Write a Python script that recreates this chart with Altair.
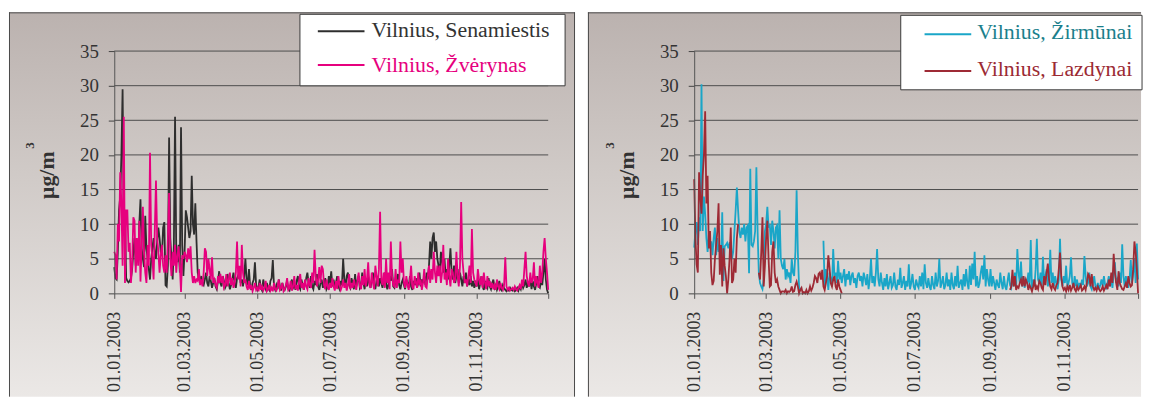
import altair as alt
import pandas as pd

# ---------------- data (daily values, µg/m3, 2003) ----------------
SENAMIESTIS = (
    [3.8, 2.2, 2.0, 6.0, 12.0, 14.0, 20.0, 29.5, 11.0, 11.2, 2.2, 1.8, 1.6, 1.8, 2.2, 3.5, 6.0, 8.0, 4.0, 6.0, 4.5, 10.0, 13.6, 6.5, 5.0, 3.8, 11.2, 6.5, 5.0, 3.5, 2.0]
    + [5.0, 6.5, 8.0, 6.0, 5.0, 7.5, 9.5, 8.0, 6.0, 5.5, 9.5, 10.3, 1.2, 1.0, 4.0, 22.5, 8.0, 5.0, 2.0, 7.0, 25.5, 6.0, 4.5, 7.0, 3.0, 24.0, 7.0, 2.5]
    + [6.0, 12.0, 11.0, 9.5, 8.0, 9.0, 17.0, 10.0, 8.5, 13.0, 7.5, 3.0, 2.0, 1.8, 2.5, 1.5, 1.2, 2.0, 3.0, 1.5, 1.0, 2.5, 1.8, 0.8, 1.5, 2.2, 1.0, 0.6, 1.8, 3.2, 1.5]
    + [1.0, 2.5, 1.8, 0.8, 1.2, 2.8, 1.5, 0.6, 1.2, 2.0, 3.0, 1.4, 0.8, 2.2, 2.6, 3.0, 1.5, 2.0, 1.0, 2.5, 5.0, 2.0, 1.2, 3.5, 1.0, 0.5, 1.5, 2.0, 4.5, 1.2]
    + [0.5, 1.0, 2.0, 0.8, 0.4, 2.0, 1.0, 0.6, 1.5, 0.8, 0.5, 1.8, 2.2, 4.8, 1.0, 0.5, 1.2, 0.6, 2.0, 1.0, 0.4, 1.5, 0.8, 0.5, 1.0, 1.8, 0.6, 0.4, 1.2, 2.0, 0.8]
    + [1.2, 0.5, 1.8, 2.5, 1.0, 0.6, 2.0, 1.2, 0.5, 1.5, 2.2, 3.0, 1.5, 0.8, 2.5, 1.0, 0.6, 1.8, 1.2, 2.8, 1.0, 0.5, 1.5, 2.0, 0.8, 1.5, 2.2, 0.6, 1.0, 2.5]
    + [1.5, 3.2, 1.0, 2.0, 0.8, 1.5, 2.5, 1.0, 0.6, 1.8, 1.2, 5.0, 2.0, 1.0, 2.5, 3.0, 1.2, 0.8, 2.2, 1.5, 0.6, 2.8, 1.0, 1.8, 2.5, 0.8, 1.2, 3.0, 1.5, 0.6, 2.0]
    + [1.0, 2.5, 1.5, 0.8, 2.0, 3.0, 1.2, 0.6, 1.8, 2.5, 1.0, 2.2, 1.5, 0.8, 2.0, 3.0, 1.5, 0.6, 1.2, 2.5, 1.8, 3.5, 1.0, 0.8, 2.0, 1.5, 2.8, 1.2, 0.6, 1.5, 2.0]
    + [1.2, 0.6, 2.0, 1.5, 0.8, 2.5, 1.0, 0.5, 1.8, 1.2, 2.2, 0.8, 1.5, 3.0, 1.0, 2.0, 1.5, 2.5, 1.2, 3.0, 2.0, 4.0, 7.5, 5.0, 8.0, 8.8, 6.0, 7.5, 5.0, 4.0]
    + [3.0, 6.0, 4.5, 3.0, 5.0, 2.5, 3.5, 2.0, 4.0, 6.5, 3.0, 2.0, 4.0, 1.5, 2.5, 3.5, 1.5, 3.0, 2.0, 1.0, 2.5, 1.5, 3.0, 1.0, 2.0, 1.2, 2.5, 1.0, 1.8, 0.8, 1.5]
    + [1.0, 2.0, 0.6, 1.5, 2.5, 1.0, 0.5, 1.8, 1.2, 0.8, 2.2, 1.0, 0.6, 1.5, 2.0, 0.8, 1.2, 0.5, 1.0, 1.8, 0.6, 0.4, 1.2, 0.8, 0.5, 0.3, 0.6, 0.4, 0.8, 0.5]
    + [0.4, 0.6, 0.3, 0.5, 0.8, 0.4, 1.0, 0.6, 1.5, 0.8, 1.2, 2.0, 0.8, 1.5, 1.0, 2.2, 0.6, 1.8, 1.0, 0.5, 1.5, 2.5, 1.0, 0.8, 1.8, 1.2, 3.0, 5.0, 2.0, 0.5, 0.0]
)

ZVERYNAS = (
    [6.0, 5.5, 2.0, 10.0, 7.5, 17.5, 13.0, 4.0, 25.5, 1.5, 12.0, 12.0, 6.0, 7.3, 1.5, 4.0, 11.0, 10.5, 3.0, 8.0, 4.0, 10.5, 1.7, 7.0, 12.5, 6.0, 3.0, 1.5, 7.0, 4.0, 20.3]
    + [7.0, 5.0, 2.0, 9.0, 16.3, 8.0, 6.0, 3.0, 5.5, 7.0, 4.0, 3.0, 5.5, 3.0, 8.0, 14.5, 5.0, 2.5, 6.0, 4.0, 7.0, 3.0, 5.5, 6.8, 4.0, 0.2, 5.5, 5.0]
    + [6.0, 5.5, 4.5, 6.5, 5.0, 6.8, 3.0, 1.5, 2.5, 1.5, 2.0, 1.8, 3.5, 1.2, 2.0, 1.0, 3.0, 6.5, 6.0, 2.5, 5.0, 3.5, 2.0, 5.2, 1.5, 2.0, 1.2, 0.8, 2.5, 1.5, 2.8]
    + [1.5, 2.5, 0.8, 1.2, 2.8, 1.0, 2.0, 3.0, 1.2, 2.2, 0.8, 1.5, 3.0, 7.5, 2.0, 4.0, 1.0, 7.0, 3.0, 1.5, 2.0, 1.0, 0.5, 1.8, 0.6, 1.2, 0.3, 0.8, 1.5, 0.5]
    + [0.8, 0.3, 1.5, 0.5, 1.0, 0.4, 0.8, 1.8, 0.3, 0.6, 1.2, 0.4, 0.8, 0.3, 1.5, 0.6, 0.4, 1.0, 2.0, 0.5, 0.8, 1.5, 0.3, 0.6, 1.2, 2.2, 0.5, 0.8, 1.8, 0.4, 1.0]
    + [2.5, 0.6, 1.2, 0.4, 1.8, 2.8, 0.8, 1.5, 0.5, 2.0, 1.0, 0.6, 2.2, 1.2, 0.8, 3.0, 1.5, 6.3, 2.5, 1.0, 2.0, 3.8, 1.5, 4.0, 3.5, 1.2, 0.6, 2.0, 1.0, 0.5]
    + [1.5, 0.8, 2.2, 1.0, 0.4, 1.8, 0.6, 2.5, 1.2, 0.5, 1.0, 2.0, 0.8, 1.5, 0.4, 1.2, 2.8, 0.6, 1.5, 0.8, 2.0, 1.2, 0.5, 1.8, 3.0, 1.0, 0.6, 2.5, 1.2, 3.5, 1.0]
    + [2.0, 4.5, 1.2, 0.8, 3.0, 1.5, 0.6, 4.0, 2.5, 1.0, 3.5, 11.8, 2.0, 1.2, 3.0, 0.8, 5.0, 1.5, 3.0, 0.6, 7.5, 2.5, 1.2, 1.0, 3.5, 0.8, 2.0, 1.5, 7.5, 3.0, 5.0]
    + [1.5, 0.8, 2.5, 1.2, 0.5, 2.0, 4.0, 1.0, 0.6, 2.5, 1.5, 0.8, 3.0, 1.2, 2.0, 0.5, 1.5, 3.5, 1.0, 0.8, 2.5, 4.0, 1.5, 3.5, 2.0, 6.0, 3.0, 1.5, 4.0, 2.5]
    + [4.0, 1.5, 3.0, 7.0, 2.0, 3.0, 1.2, 5.0, 2.5, 1.0, 3.5, 3.0, 1.5, 2.0, 6.0, 2.5, 1.0, 4.0, 13.2, 5.0, 3.0, 1.5, 2.0, 1.0, 2.5, 4.0, 1.5, 9.3, 3.0, 2.0, 1.5]
    + [1.0, 3.5, 2.0, 1.2, 2.5, 0.8, 3.0, 1.5, 0.6, 2.5, 1.0, 1.8, 0.8, 1.5, 0.6, 1.2, 0.5, 2.0, 1.0, 0.6, 1.5, 0.8, 0.5, 1.2, 5.2, 1.0, 0.5, 0.8, 0.4, 0.6]
    + [0.8, 0.5, 1.0, 0.6, 0.4, 0.8, 1.2, 0.6, 2.0, 1.0, 3.5, 6.0, 2.5, 1.5, 1.0, 3.0, 1.5, 2.0, 4.5, 1.0, 2.5, 1.5, 0.8, 4.0, 1.5, 3.0, 6.0, 8.0, 5.0, 3.0, 0.5]
)

ZIRMUNAI = (
    [6.6, 9.0, 10.3, 7.0, 11.0, 9.0, 30.2, 9.0, 14.0, 11.5, 8.0, 6.0, 8.5, 7.0, 7.5, 5.5, 8.0, 9.5, 5.5, 8.0, 6.0, 7.0, 4.5, 11.7, 1.8, 6.8, 7.0, 7.3, 6.5, 7.3, 7.3]
    + [5.0, 6.0, 9.0, 12.0, 15.3, 12.0, 9.0, 8.0, 9.5, 8.5, 10.0, 7.5, 9.5, 9.8, 2.9, 18.0, 7.0, 6.8, 7.5, 9.0, 18.2, 9.0, 3.0, 1.5, 1.0, 0.6, 2.0, 9.0]
    + [10.0, 12.5, 9.5, 10.0, 7.0, 10.5, 9.0, 6.5, 9.5, 9.8, 5.0, 12.0, 5.0, 4.0, 3.5, 5.0, 2.0, 3.5, 2.5, 3.0, 1.5, 5.0, 3.0, 2.5, 6.0, 14.9, 6.0, 1.0, 0.5, None, None]
    + [None] * 16 + [7.6, 1.0, 3.5, 2.5, 0.5, 3.0, 2.0, 1.0, 6.4, 2.5, 3.0, 1.5, 4.7, 2.0]
    + [3.0, 1.5, 2.5, 3.5, 1.0, 2.8, 2.0, 3.2, 1.2, 2.5, 3.0, 1.5, 2.2, 0.8, 2.5, 3.0, 1.8, 2.5, 1.0, 3.0, 2.2, 1.2, 2.8, 0.6, 2.0, 5.0, 1.5, 2.5, 1.0, 3.0, 6.4]
    + [2.0, 1.0, 3.0, 1.5, 0.5, 2.2, 1.0, 2.8, 0.6, 1.5, 2.5, 0.8, 1.2, 3.0, 1.0, 0.5, 2.0, 1.2, 3.7, 0.8, 1.5, 2.5, 0.5, 1.8, 1.0, 4.2, 0.6, 1.5, 2.8, 1.0]
    + [0.5, 2.0, 1.2, 0.8, 2.5, 1.0, 3.0, 0.6, 4.2, 1.5, 0.8, 2.2, 1.0, 0.5, 2.5, 1.2, 0.6, 3.0, 1.0, 1.8, 5.0, 0.8, 1.5, 2.5, 0.6, 1.2, 3.0, 1.0, 2.0, 0.5, 3.0]
    + [1.2, 0.6, 2.5, 1.0, 4.0, 0.8, 1.5, 2.0, 0.5, 2.8, 1.0, 3.5, 1.5, 0.6, 4.0, 1.2, 4.3, 2.0, 6.0, 1.0, 2.5, 0.8, 1.5, 3.0, 4.0, 2.0, 5.5, 1.0, 3.5, 2.0, 1.0]
    + [3.5, 1.0, 2.5, 1.5, 0.5, 2.0, 1.2, 0.8, 3.0, 1.5, 0.6, 2.5, 1.0, 0.5, 1.8, 3.0, 1.2, 0.8, 2.5, 1.0, 3.0, 0.8, 6.4, 3.0, 1.5, 4.6, 1.0, 2.5, 0.8, 2.0]
    + [1.5, 3.0, 1.0, 7.7, 0.5, 2.0, 1.0, 3.5, 7.9, 2.0, 1.5, 3.0, 1.0, 5.3, 1.5, 2.5, 3.5, 1.0, 2.0, 6.3, 1.5, 3.0, 1.0, 2.5, 1.5, 0.6, 2.0, 7.9, 2.0, 1.0, 2.5]
    + [1.5, 4.0, 1.0, 1.5, 2.5, 5.2, 1.5, 0.8, 2.5, 1.0, 2.0, 0.5, 1.5, 0.8, 2.0, 1.2, 5.4, 2.5, 1.0, 1.5, 3.0, 1.0, 0.6, 1.5, 2.5, 1.0, 0.8, 1.5, 0.6, 1.2]
    + [2.0, 1.0, 2.5, 1.2, 0.6, 1.5, 2.5, 1.0, 2.0, 0.8, 3.0, 4.5, 1.5, 2.0, 1.0, 3.0, 1.5, 7.1, 2.5, 1.0, 2.5, 1.5, 0.8, 2.0, 4.8, 1.5, 3.0, 5.0, 1.5, 7.2, 2.0]
)

LAZDYNAI = (
    [16.5, 8.0, 4.2, 3.0, 17.5, 14.0, 11.5, 17.0, 20.0, 26.3, 13.0, 17.0, 6.5, 9.0, 3.0, 1.2, 1.8, 5.0, 7.0, 9.0, 13.0, 2.7, 7.0, 1.0, 6.5, 4.0, 2.5, 0.0, 2.0, 5.0, 9.5]
    + [1.5, 2.0, 5.0, 3.0, 8.0, 10.0] + [None] * 16 + [3.0, 2.0, 6.0, 11.0, 1.0, 4.0]
    + [8.0, 10.5, 5.0, 1.0, 1.2, 6.0, 7.5, 3.0, 1.5, 2.0, 1.0, 0.5, 0.0, 0.3, 0.3, 0.2, 0.5, 0.0, 0.3, 0.2, 0.4, 1.0, 0.2, 0.3, 1.2, 1.7, 1.0, 0.0, 0.5, 0.8, 0.0]
    + [0.2, 0.0, 0.5, 0.0, 0.3, 1.0, 0.4, 0.8, 1.5, 2.5, 2.2, 1.5, 2.8, 3.0, 2.0, 3.4, 1.0, 0.5, 1.5, 2.5, 5.5, 3.7, 1.5, 1.0, 2.0, 2.5, 1.0, 0.5, 2.0, 1.0]
    + [0.5, 0.0] + [None] * 29
    + [None] * 30
    + [None] * 31
    + [None] * 31
    + [None] * 16 + [0.5, 1.0, 3.4, 1.0, 2.5, 0.5, 1.0, 0.8, 1.5, 2.0, 1.0, 2.5, 1.0, 2.0]
    + [1.5, 0.5, 1.2, 0.8, 0.3, 1.0, 2.0, 0.5, 1.0, 0.6, 1.8, 1.5, 0.8, 0.5, 2.5, 1.2, 3.0, 4.3, 2.0, 1.0, 0.6, 1.5, 0.8, 0.5, 1.2, 1.5, 3.5, 5.9, 2.5, 1.0, 0.5]
    + [0.8, 0.3, 1.0, 0.5, 1.2, 0.4, 0.8, 1.5, 0.6, 0.3, 1.0, 0.5, 0.8, 1.2, 0.4, 0.6, 1.0, 0.5, 1.5, 2.8, 2.5, 1.0, 2.8, 1.0, 0.5, 0.8, 0.4, 1.0, 0.6, 0.3]
    + [0.5, 1.0, 0.4, 0.8, 1.2, 0.6, 2.0, 1.0, 3.0, 1.5, 5.7, 3.0, 1.5, 0.5, 3.2, 1.5, 1.0, 0.6, 0.5, 1.0, 1.5, 0.8, 2.5, 1.5, 1.0, 1.2, 3.5, 7.5, 6.0, 3.5, 0.0]
)

NAMES_LEFT = ["Vilnius, Senamiestis", "Vilnius, Žvėrynas"]
NAMES_RIGHT = ["Vilnius, Žirmūnai", "Vilnius, Lazdynai"]
LINE_COLORS_LEFT = ["#2e2e2e", "#e6007e"]
LINE_COLORS_RIGHT = ["#1aa6c8", "#9e2a35"]
TEXT_COLORS_LEFT = ["#333333", "#e6007e"]
TEXT_COLORS_RIGHT = ["#1b7f8c", "#9b2a33"]
Y_TICKS = [0, 5, 10, 15, 20, 25, 30, 35]
GRID_VALUES = [5, 10, 15, 20, 25, 30, 35]
X_TICK_MONTHS = [1, 3, 5, 7, 9, 11]
Y_TITLE = "μg/m"
Y_TITLE_SUP = "3"

DATES = pd.date_range("2003-01-01", "2003-12-31", freq="D")
for s in (SENAMIESTIS, ZVERYNAS, ZIRMUNAI, LAZDYNAI):
    assert len(s) == len(DATES), len(s)


def series_df(name, values):
    rows, seg = [], 0
    for d, v in zip(DATES, values):
        if v is None:
            seg += 1
            continue
        rows.append({"date": d, "value": v, "seg": f"{name}-{seg}"})
    return pd.DataFrame(rows)


ONE = pd.DataFrame({"k": [0]})
FONT = "'Liberation Serif', 'Times New Roman', Times, 'DejaVu Serif', serif"
H = 244
TOP = -39          # frame top relative to plot top
BOTTOM = H + 104   # frame bottom relative to plot top
FRAME = "#4a4a4a"

GRADIENT = alt.Gradient(
    gradient="linear",
    stops=[
        alt.GradientStop(color="#bbb2af", offset=0),
        alt.GradientStop(color="#d0cac7", offset=0.42),
        alt.GradientStop(color="#ebe8e6", offset=1),
    ],
    x1=0, x2=0, y1=0, y2=1,
)


def panel(names, values, line_colors, text_colors, W, left_off, right_ext, right_border, leg):
    tick_vals = [alt.DateTime(year=2003, month=m, date=1) for m in X_TICK_MONTHS] + [
        alt.DateTime(year=2003, month=12, date=31)
    ]
    x_enc = alt.X(
        "date:T",
        scale=alt.Scale(domain=[alt.DateTime(year=2003, month=1, date=1),
                                alt.DateTime(year=2003, month=12, date=31)]),
        axis=alt.Axis(
            values=tick_vals,
            labelExpr="month(datum.value) == 11 ? '' : timeFormat(datum.value, '%d.%m.%Y')",
            labelAngle=270, labelFont=FONT, labelFontSize=18, labelColor="#333333",
            labelPadding=13, tickSize=5, tickColor="#555555", domainColor="#555555",
            grid=False, title=None, zindex=1, labelFlush=False, labelOverlap=False,
            labelBound=False,
        ),
    )
    y_enc = alt.Y(
        "value:Q",
        scale=alt.Scale(domain=[0, 35], nice=False, zero=True),
        axis=alt.Axis(
            values=Y_TICKS, labelFont=FONT, labelFontSize=19, labelColor="#333333",
            labelPadding=10, tickSize=6, tickColor="#444444", domainColor="#555555",
            grid=False, title=None, zindex=1, labelFlush=False,
        ),
    )

    x_left, x_right = -left_off, W + right_ext
    bg = alt.Chart(ONE).mark_rect(fill=GRADIENT, strokeWidth=0).encode(
        x=alt.value(x_left), x2=alt.value(x_right), y=alt.value(TOP), y2=alt.value(BOTTOM)
    )
    frame = [
        alt.Chart(ONE).mark_rule(color=FRAME, strokeWidth=1).encode(
            x=alt.value(x_left), x2=alt.value(x_right), y=alt.value(TOP + 0.5)),
        alt.Chart(ONE).mark_rule(color=FRAME, strokeWidth=1).encode(
            x=alt.value(x_left + 0.5), y=alt.value(TOP), y2=alt.value(BOTTOM)),
    ]
    if right_border:
        frame.append(
            alt.Chart(ONE).mark_rule(color=FRAME, strokeWidth=1).encode(
                x=alt.value(x_right - 0.5), y=alt.value(TOP), y2=alt.value(BOTTOM)))

    grid = alt.Chart(pd.DataFrame({"value": GRID_VALUES})).mark_rule(
        color="#4d4d4d", strokeWidth=1
    ).encode(y=y_enc, x=alt.value(0), x2=alt.value(W))

    lines = []
    for name, vals, col in zip(names, values, line_colors):
        lines.append(
            alt.Chart(series_df(name, vals)).mark_line(color=col, strokeWidth=1.8).encode(
                x=x_enc, y=y_enc, detail="seg:N"
            )
        )

    box = alt.Chart(ONE).mark_rect(fill="white", stroke="#3a3a3a", strokeWidth=1).encode(
        x=alt.value(leg["box"][0]), x2=alt.value(leg["box"][1]),
        y=alt.value(leg["box"][2]), y2=alt.value(leg["box"][3]),
    )
    legend_layers = [box]
    for i, (name, lc, tc) in enumerate(zip(names, line_colors, text_colors)):
        legend_layers.append(
            alt.Chart(ONE).mark_rule(color=lc, strokeWidth=2).encode(
                x=alt.value(leg["line"][0]), x2=alt.value(leg["line"][1]),
                y=alt.value(leg["line_y"][i]),
            )
        )
        legend_layers.append(
            alt.Chart(ONE).mark_text(
                text=name, font=FONT, fontSize=22, color=tc, align="left", baseline="alphabetic"
            ).encode(x=alt.value(leg["text_x"]), y=alt.value(leg["text_y"][i]))
        )

    title = alt.Chart(ONE).mark_text(
        text=Y_TITLE, font=FONT, fontSize=22, fontWeight="bold", color="#333333",
        angle=270, align="center", baseline="alphabetic",
    ).encode(x=alt.value(-61), y=alt.value(125))
    sup = alt.Chart(ONE).mark_text(
        text=Y_TITLE_SUP, font=FONT, fontSize=13, fontWeight="bold", color="#333333",
        angle=270, align="center", baseline="alphabetic",
    ).encode(x=alt.value(-81), y=alt.value(95))

    return alt.layer(bg, *frame, grid, *lines, *legend_layers, title, sup).properties(
        width=W, height=H
    )


left = panel(
    NAMES_LEFT, [SENAMIESTIS, ZVERYNAS], LINE_COLORS_LEFT, TEXT_COLORS_LEFT,
    437, 106, 27, True,
    {"box": (187, 454, -37, 35), "line": (205, 252), "line_y": (-20, 14),
     "text_x": 259, "text_y": (-14, 21)},
)
right = panel(
    NAMES_RIGHT, [ZIRMUNAI, LAZDYNAI], LINE_COLORS_RIGHT, TEXT_COLORS_RIGHT,
    447, 107, 3, False,
    {"box": (208, 451, -36, 39), "line": (232, 279), "line_y": (-17, 20),
     "text_x": 285, "text_y": (-12, 25)},
)

chart = (
    alt.hconcat(left, right, spacing=11)
    .properties(padding={"left": 0, "top": 2, "right": 0, "bottom": 0})
    .configure_view(strokeWidth=0)
    .configure(background="white")
)

chart.save("out.html", embed_options={"renderer": "svg", "actions": False})
